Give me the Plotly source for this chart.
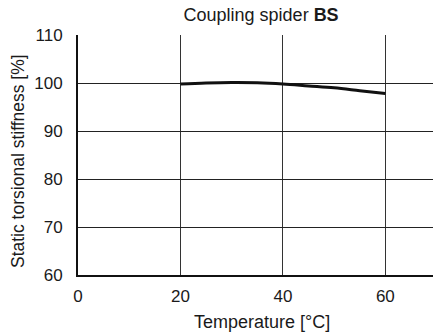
import plotly.graph_objects as go

# Temperature [°C] and relative static torsional stiffness [%]
temperature = [20, 25, 30, 35, 40, 45, 50, 55, 60]
stiffness = [99.8, 100.0, 100.1, 100.05, 99.8, 99.4, 99.0, 98.4, 97.8]

x_ticks = [0, 20, 40, 60]
y_ticks = [60, 70, 80, 90, 100, 110]

font_family = "Liberation Sans, Arial, Helvetica, sans-serif"
text_color = "#1a1a1a"

fig = go.Figure(
    go.Scatter(
        x=temperature,
        y=stiffness,
        mode="lines",
        line=dict(color="#111111", width=3, shape="spline"),
        hoverinfo="skip",
    )
)

fig.update_layout(
    width=433,
    height=335,
    margin=dict(l=78, r=0, t=35, b=60),
    paper_bgcolor="white",
    plot_bgcolor="white",
    showlegend=False,
    font=dict(family=font_family, size=17, color=text_color),
    title=dict(
        text="Coupling spider <b>BS</b>",
        x=0.603,
        xanchor="center",
        y=0.957,
        yanchor="middle",
        font=dict(family=font_family, size=18, color=text_color),
    ),
)

fig.update_xaxes(
    range=[0, 69.3],
    tickvals=x_ticks,
    showgrid=True,
    gridcolor="#333333",
    gridwidth=1,
    showline=True,
    linecolor="#111111",
    linewidth=2,
    zeroline=False,
    ticks="",
    ticklabelstandoff=5,
    tickfont=dict(size=17),
)

fig.update_yaxes(
    range=[60, 110],
    tickvals=y_ticks,
    showgrid=True,
    gridcolor="#222222",
    gridwidth=1,
    showline=True,
    linecolor="#111111",
    linewidth=2,
    zeroline=False,
    ticks="",
    ticklabelstandoff=10,
    tickfont=dict(size=17),
)

# Axis titles placed as annotations for precise positioning
fig.add_annotation(
    text="Temperature [°C]",
    xref="paper", yref="paper",
    x=0.518, y=-0.197,
    xanchor="center", yanchor="middle",
    showarrow=False,
    font=dict(size=18, color=text_color),
)
fig.add_annotation(
    text="Static torsional stiffness [%]",
    xref="paper", yref="paper",
    x=-0.169, y=0.475,
    xanchor="center", yanchor="middle",
    textangle=-90,
    showarrow=False,
    font=dict(size=17.5, color=text_color),
)

fig.write_html("out.html")
